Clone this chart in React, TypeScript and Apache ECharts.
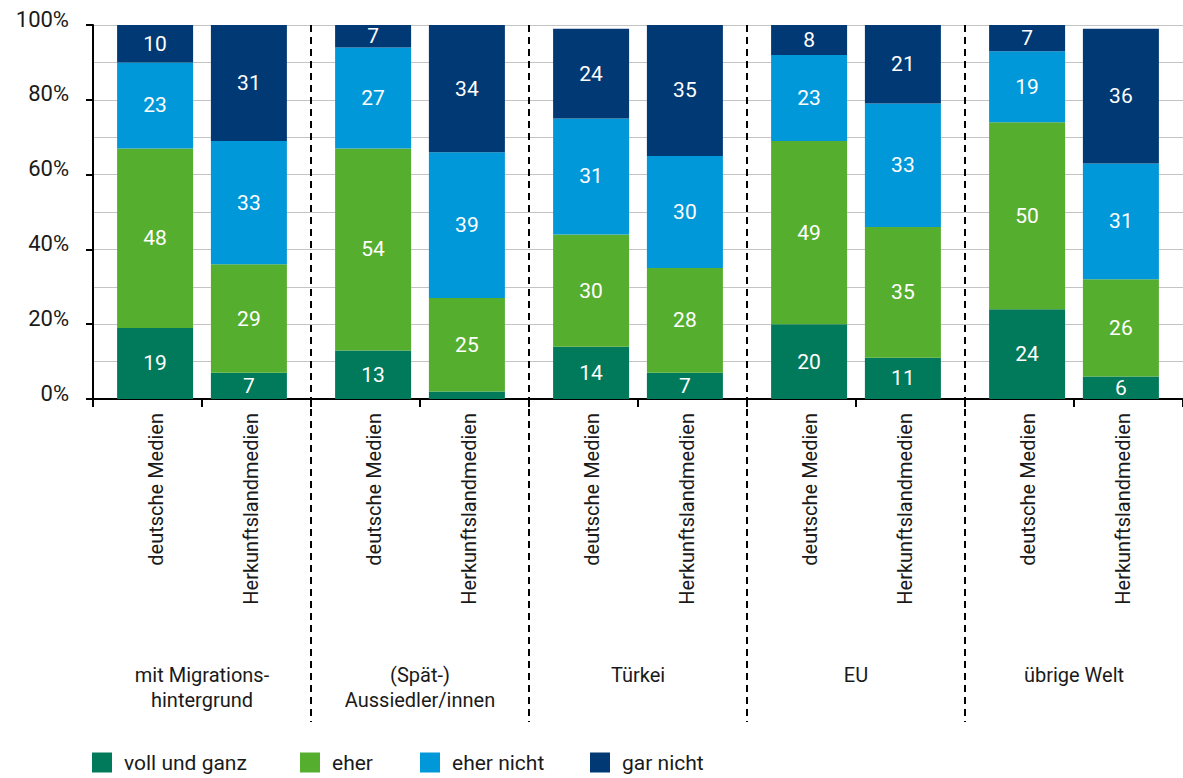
import React, { useEffect, useRef } from "react";
import * as echarts from "echarts";

const groups = [
  "mit Migrations-\nhintergrund",
  "(Spät-)\nAussiedler/innen",
  "Türkei",
  "EU",
  "übrige Welt",
];
const mediaTypes = ["deutsche Medien", "Herkunftslandmedien"];
const answers = ["voll und ganz", "eher", "eher nicht", "gar nicht"];
const answerColors = ["#007a5a", "#56ae2f", "#0098d9", "#003973"];

// deutsche Medien, per group
const deutscheVoll = [19, 13, 14, 20, 24];
const deutscheEher = [48, 54, 30, 49, 50];
const deutscheEherNicht = [23, 27, 31, 23, 19];
const deutscheGarNicht = [10, 7, 24, 8, 7];

// Herkunftslandmedien, per group
const herkunftVoll = [7, 2, 7, 11, 6];
const herkunftEher = [29, 25, 28, 35, 26];
const herkunftEherNicht = [33, 39, 30, 33, 31];
const herkunftGarNicht = [31, 34, 35, 21, 36];

const yTicks = [0, 20, 40, 60, 80, 100];

const FONT = "Roboto, 'Noto Sans', sans-serif";
const TEXT = "#1a1a1a";

export default function App() {
  const ref = useRef<HTMLDivElement>(null);

  useEffect(() => {
    if (!ref.current) return;
    const chart = echarts.init(ref.current, null, { renderer: "svg" });

    const categories: string[] = [];
    groups.forEach(() => mediaTypes.forEach((m) => categories.push(m)));

    const spread = (vals: number[], slot: number) =>
      categories.map((_, i) => (i % 2 === slot ? vals[Math.floor(i / 2)] : null));

    const dSets = [deutscheVoll, deutscheEher, deutscheEherNicht, deutscheGarNicht];
    const hSets = [herkunftVoll, herkunftEher, herkunftEherNicht, herkunftGarNicht];

    const mk = (name: string, color: string, data: (number | null)[], stack: string) => ({
      type: "bar",
      name,
      stack,
      data,
      xAxisIndex: 0,
      yAxisIndex: 0,
      barWidth: 76,
      barGap: "-80%",
      itemStyle: { color },
      label: {
        show: true,
        position: "inside",
        color: "#ffffff",
        fontFamily: FONT,
        fontSize: 21,
        formatter: (p: any) => (p.value != null && p.value >= 4 ? String(p.value) : ""),
      },
    });

    const series: any[] = [];
    answers.forEach((a, k) => series.push(mk(a, answerColors[k], spread(hSets[k], 1), "H")));
    answers.forEach((a, k) => series.push(mk(a, answerColors[k], spread(dSets[k], 0), "D")));

    const legendLefts = [92, 300, 420, 590];

    chart.setOption({
      animation: false,
      textStyle: { fontFamily: FONT },
      grid: [
        { left: 93, right: 0, top: 25, bottom: 379, containLabel: false },
        { left: 93, right: 0, top: 25, bottom: 56, containLabel: false },
      ],
      xAxis: [
        {
          type: "category",
          gridIndex: 0,
          data: categories,
          axisLine: { show: true, lineStyle: { color: "#000", width: 2 } },
          axisTick: { show: true, length: 8, lineStyle: { color: "#000", width: 2 } },
          splitLine: { show: false },
          axisLabel: {
            rotate: 90,
            margin: 14,
            color: TEXT,
            fontFamily: FONT,
            fontSize: 20,
            interval: 0,
            formatter: (v: string, i: number) => (i % 2 === 0 ? `{a|${v}}` : `{b|${v}}`),
            rich: {
              a: { padding: [16, 0, 0, 0], fontSize: 20, color: TEXT, fontFamily: FONT },
              b: { padding: [0, 0, 11, 0], fontSize: 20, color: TEXT, fontFamily: FONT },
            },
          },
        },
        {
          type: "category",
          gridIndex: 0,
          position: "bottom",
          data: groups,
          axisLine: { show: false },
          axisTick: { show: false },
          splitLine: { show: false },
          axisLabel: {
            margin: 263,
            interval: 0,
            verticalAlign: "top",
            lineHeight: 25,
            color: TEXT,
            fontFamily: FONT,
            fontSize: 20,
          },
        },
        {
          type: "category",
          gridIndex: 1,
          data: groups,
          axisLine: { show: false },
          axisTick: { show: false },
          axisLabel: { show: false },
          splitLine: {
            show: true,
            showMinLine: false,
            showMaxLine: false,
            lineStyle: { color: "#000", width: 2, type: [7, 5] },
          },
        },
      ],
      yAxis: [
        {
          type: "value",
          gridIndex: 0,
          min: 0,
          max: 100,
          interval: 20,
          axisLine: { show: true, lineStyle: { color: "#000", width: 2 } },
          axisTick: { show: true, length: 7, lineStyle: { color: "#000", width: 2 } },
          minorTick: { show: false, splitNumber: 2 },
          splitLine: { show: true, lineStyle: { color: "#c4c4c4", width: 1 } },
          minorSplitLine: { show: true, lineStyle: { color: "#c4c4c4", width: 1 } },
          axisLabel: {
            margin: 24,
            color: TEXT,
            fontFamily: FONT,
            fontSize: 22,
            verticalAlign: "bottom",
            lineHeight: 12,
            formatter: (v: number) => (yTicks.includes(v) ? `${v}%` : ""),
          },
        },
        {
          type: "value",
          gridIndex: 1,
          show: false,
          min: 0,
          max: 1,
        },
      ],
      legend: answers.map((a, k) => ({
        data: [{ name: a, icon: "rect" }],
        left: legendLefts[k],
        top: 752,
        padding: 0,
        itemWidth: 20,
        itemHeight: 20,
        selectedMode: false,
        formatter: "{t|{name}}",
        textStyle: {
          color: TEXT,
          fontFamily: FONT,
          fontSize: 21,
          rich: { t: { padding: [0, 0, 0, 7], fontSize: 21, color: TEXT, fontFamily: FONT } },
        },
      })),
      series,
    });

    return () => chart.dispose();
  }, []);

  return (
    <div
      ref={ref}
      style={{ position: "absolute", left: 0, top: 0, width: 1183, height: 778, background: "#fff" }}
    />
  );
}
